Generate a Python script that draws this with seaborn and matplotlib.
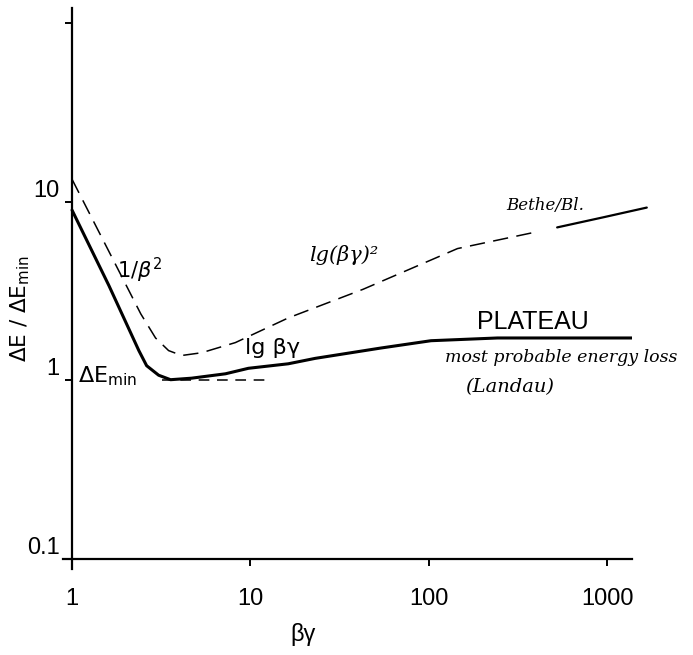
import matplotlib
matplotlib.use("Agg")
import matplotlib.pyplot as plt
import seaborn as sns
import pandas as pd

# Most probable energy loss (solid)
landau_bg = [1, 1.61, 2.37, 2.62, 3.06, 3.57, 4.68, 7.25, 9.75, 16.3, 23.1, 54, 103, 243, 1380]
landau_dE = [9.0, 3.4, 1.47, 1.21, 1.07, 1.01, 1.03, 1.09, 1.17, 1.24, 1.33, 1.52, 1.67, 1.73, 1.73]

# Bethe-Bloch mean energy loss (dashed part)
bethe_bg = [1, 2.43, 2.94, 3.48, 4.12, 5.33, 8.24, 16.3, 42.8, 145, 406]
bethe_dE = [13.4, 2.36, 1.73, 1.47, 1.38, 1.43, 1.63, 2.24, 3.24, 5.48, 6.81]

# Bethe-Bloch continuation (solid stroke at high beta-gamma)
bethe_hi_bg = [525, 951, 1670]
bethe_hi_dE = [7.2, 8.2, 9.3]

# minimum reference line
min_bg = [3.2, 12.6]
min_dE = [1.0, 1.0]

x_ticks = [1, 10, 100, 1000]
x_labels = ["1", "10", "100", "1000"]
y_ticks = [0.1, 1, 10, 100]
y_labels = ["0.1", "1", "10", ""]

sns.set_style("white", {"axes.edgecolor": "black", "text.color": "black",
                        "xtick.color": "black", "ytick.color": "black"})
plt.rcParams["font.family"] = ["Liberation Sans Narrow", "Liberation Sans", "DejaVu Sans"]

fig = plt.figure(figsize=(6.93, 6.55), dpi=100)
ax = fig.add_axes([63 / 693, 1 - 569 / 655, (632 - 63) / 693, (569 - 8) / 655])

df_l = pd.DataFrame({"bg": landau_bg, "dE": landau_dE})
df_b = pd.DataFrame({"bg": bethe_bg, "dE": bethe_dE})
df_h = pd.DataFrame({"bg": bethe_hi_bg, "dE": bethe_hi_dE})
df_m = pd.DataFrame({"bg": min_bg, "dE": min_dE})

sns.lineplot(data=df_l, x="bg", y="dE", ax=ax, color="black", lw=2.2, sort=False)
sns.lineplot(data=df_b, x="bg", y="dE", ax=ax, color="black", lw=1.1,
             linestyle=(0, (10, 5.5)), sort=False)
sns.lineplot(data=df_h, x="bg", y="dE", ax=ax, color="black", lw=1.6,
             sort=False, clip_on=False)
sns.lineplot(data=df_m, x="bg", y="dE", ax=ax, color="black", lw=1.1,
             linestyle=(0, (7, 5)), sort=False)

ax.set_xscale("log")
ax.set_yscale("log")
ax.set_xlim(0.89, 1380)
ax.set_ylim(0.0879, 122)

for s in ["top", "right"]:
    ax.spines[s].set_visible(False)
ax.spines["left"].set_position(("data", 1))
ax.spines["bottom"].set_position(("data", 0.1))
ax.spines["left"].set_linewidth(1.6)
ax.spines["bottom"].set_linewidth(1.6)
ax.spines["left"].set_color("black")
ax.spines["bottom"].set_color("black")
ax.spines["left"].set_bounds(0.0879, 122)

ax.set_xticks(x_ticks)
ax.set_xticklabels(x_labels)
ax.set_yticks(y_ticks)
ax.set_yticklabels(y_labels)
ax.minorticks_off()
ax.tick_params(axis="x", direction="out", length=5, width=1.4, pad=16, labelsize=17,
               colors="black")
ax.tick_params(axis="y", direction="out", length=5, width=1.4, pad=4, labelsize=17,
               colors="black")
ax.tick_params(axis="x", which="major", bottom=True)
ax.tick_params(axis="y", which="major", left=True)
for lab in ax.get_yticklabels():
    lab.set_verticalalignment("bottom")

ax.set_xlabel("")
ax.set_ylabel("")
fig.text(303 / 693, 1 - 635 / 655, "βγ", fontsize=17, ha="center", va="center")
fig.text(20 / 693, 1 - 309 / 655, r"$\Delta$E / $\Delta$E$_{\mathrm{min}}$",
         fontsize=15.5, rotation=90, ha="center", va="center",
         family=["DejaVu Sans"])

def ftxt(px, py, s, **kw):
    fig.text(px / 693, 1 - py / 655, s, ha="center", va="center", **kw)

ftxt(140, 270, r"1/$\beta^2$", fontsize=15, family=["DejaVu Sans"])
ftxt(108, 376, r"$\Delta$E$_{\mathrm{min}}$", fontsize=16, family=["DejaVu Sans"])
ftxt(273, 348, "lg βγ", fontsize=16, family=["DejaVu Sans"])
ftxt(344, 255, "lg(βγ)²", fontsize=15, style="italic", family=["DejaVu Serif"])
ftxt(545, 206, "Bethe/Bl.", fontsize=12, style="italic", family=["DejaVu Serif"])
ftxt(533, 322, "PLATEAU", fontsize=18, family=["Liberation Sans"])
ftxt(561, 357, "most probable energy loss", fontsize=12.5, style="italic",
     family=["DejaVu Serif"])
ftxt(510, 387, "(Landau)", fontsize=14, style="italic", family=["DejaVu Serif"])

fig.savefig("out.png", dpi=100)
